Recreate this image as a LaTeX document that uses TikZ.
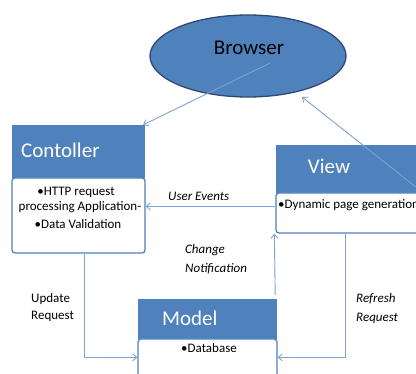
\documentclass[tikz,border=0pt]{standalone}
\usepackage{fontspec}
\setmainfont{Carlito}
\usetikzlibrary{arrows.meta,calc,shapes.geometric}
\definecolor{hdr}{HTML}{4F81BD}
\definecolor{edgec}{HTML}{2E4A70}
\definecolor{connc}{HTML}{7BA3D6}
\begin{document}
\begin{tikzpicture}[x=1pt,y=-1pt,
  hbox/.style={rectangle,fill=hdr,inner sep=0pt},
  bbox/.style={rectangle,draw=hdr,line width=1.3pt,fill=white,rounded corners=3pt,inner sep=0pt},
  htext/.style={text=white,font=\fontsize{21}{24}\selectfont,inner sep=0pt,anchor=base},
  btext/.style={font=\fontsize{13}{16}\selectfont,inner sep=0pt,anchor=base},
  lbl/.style={font=\fontsize{13}{16}\selectfont,inner sep=0pt,anchor=base west},
  ilbl/.style={lbl,font=\fontsize{13}{16}\selectfont\itshape},
  conn/.style={draw=connc,line width=0.9pt},
  arr/.style={conn,-{Straight Barb[length=4pt,width=7pt]}}]
\useasboundingbox (0,0) rectangle (416,374);
\clip (0,0) rectangle (416,374);
\fill[white] (0,0) rectangle (416,374);

% Browser
\node[ellipse,fill=hdr,draw=edgec,line width=1.3pt,minimum width=196,minimum height=82,inner sep=0pt] (browser) at (248,56) {};
\node[htext,text=black] (browserT) at (249,55) {Browser};

% Controller
\node[hbox,minimum width=133,minimum height=53] (ctrlH) at (78.5,151.5) {};
\node[bbox,minimum width=133,minimum height=75] (ctrlB) at (78.5,215.5) {};
\node[htext,anchor=base west] (ctrlT) at (21,158) {Contoller};
\node[btext] (ctrl1) at (76,196) {•HTTP request};
\node[btext] (ctrl2) at (80,211) {processing Application-};
\node[btext] (ctrl3) at (78,229) {•Data Validation};

% View
\node[hbox,minimum width=184,minimum height=48] (viewH) at (368,169) {};
\node[bbox,minimum width=184,minimum height=40] (viewB) at (368,213) {};
\node[htext] (viewT) at (329,174) {View};
\node[btext,anchor=base west] (view1) at (278,209) {•Dynamic page generation};

% Model
\node[hbox,minimum width=139,minimum height=40] (modelH) at (207.5,319) {};
\node[bbox,minimum width=139,minimum height=61] (modelB) at (207.5,369.5) {};
\node[htext,anchor=base west] (modelT) at (162,326) {Model};
\node[btext] (model1) at (209,353) {•Database};

% connectors
\coordinate (bStart) at ($(browser.center)+(22,7)$);
\draw[arr] (bStart) -- ($(ctrlH.north east)+(-2,0)$);
\coordinate (vEnd) at (440,206);
\coordinate (bIn) at (302,97);
\draw[arr] (vEnd) -- (bIn);
\draw[arr] ($(viewB.north west)+(0,14)$) -- ($(ctrlB.north east)+(0,29)$);
\draw[arr] ($(modelH.north east)+(-2,-4)$) -- ($(viewB.south west)+(-1,0)$);
\draw[arr] ($(viewB.south west)+(70,0)$) |- ($(modelB.north east)+(0,19)$);
\draw[arr] ($(ctrlB.south west)+(73,0)$) |- ($(modelB.north west)+(0,19)$);

% labels
\node[ilbl] (lUE) at (168,201) {User Events};
\node[ilbl] (lCN1) at (185,254) {Change};
\node[ilbl] (lCN2) at (185,273) {Notification};
\node[lbl] (lUR1) at (31,303) {Update};
\node[lbl] (lUR2) at (31,320) {Request};
\node[ilbl] (lRR1) at (356,303) {Refresh};
\node[ilbl] (lRR2) at (356,322) {Request};
\end{tikzpicture}
\end{document}
